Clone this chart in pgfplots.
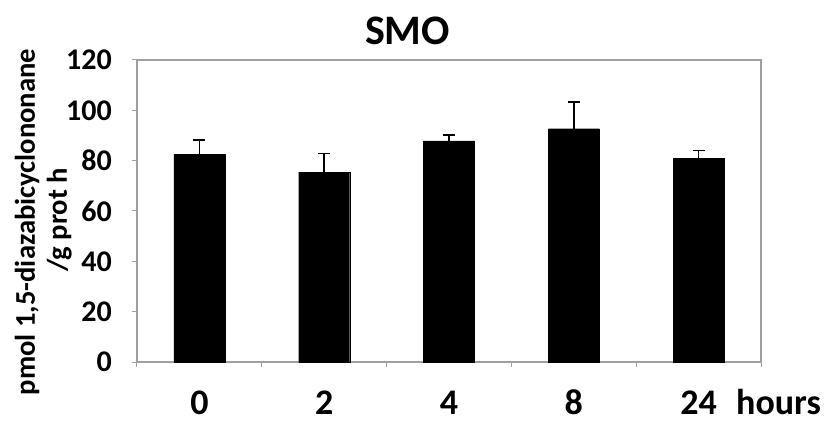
\documentclass[border=0pt]{standalone}
\usepackage{fontspec}
\setmainfont{Carlito}
\usepackage{pgfplots}
\pgfplotsset{compat=1.18}
\definecolor{axgray}{RGB}{160,160,160}
\pgfplotstableread{
x y e
0 82.5 5.7
1 75.4 7.5
2 87.9 2.3
3 92.7 10.7
4 80.8 3.2
}\smodata
\begin{document}
\begin{tikzpicture}
\begin{axis}[
 width=624bp, height=302bp, scale only axis,
 xmin=-0.5, xmax=4.5, ymin=0, ymax=120,
 ybar, bar width=51bp,
 axis line style={axgray, line width=2bp},
 ytick={0,20,...,120},
 xtick={0,1,2,3,4}, xticklabels={0,2,4,8,24},
 minor xtick={-0.5,0.5,1.5,2.5,3.5,4.5},
 tick align=outside, tick pos=left,
 major tick length=5bp, minor tick length=5bp,
 major x tick style={draw=none},
 minor x tick style={axgray, line width=1bp},
 major y tick style={axgray, line width=1bp},
 /pgf/number format/assume math mode=true,
 yticklabel style={font=\fontsize{30bp}{34bp}\selectfont\bfseries, anchor=east, inner sep=0pt, xshift=-20bp},
 xticklabel style={font=\fontsize{36bp}{40bp}\selectfont\bfseries, anchor=base, inner sep=0pt, yshift=-47bp},
 clip=false,
]
\addplot[fill=black, draw=black,
  error bars/.cd, y dir=plus, y explicit,
  error bar style={black, line width=1.5bp},
  error mark options={black, line width=1.5bp, mark size=6bp, rotate=90}]
  table[x=x, y=y, y error=e]{\smodata};
\coordinate (O) at (rel axis cs:0,0);
\end{axis}
\node[anchor=base, font=\fontsize{42bp}{46bp}\selectfont\bfseries] at ([xshift=270.5bp, yshift=317bp]O) {SMO};
\node[rotate=90, anchor=base, inner sep=0pt, font=\fontsize{28.6bp}{32bp}\selectfont\bfseries] at ([xshift=-102bp, yshift=140bp]O) {pmol 1,5-diazabicyclononane};
\node[rotate=90, anchor=base, inner sep=0pt, font=\fontsize{28.6bp}{32bp}\selectfont\bfseries] at ([xshift=-70bp, yshift=142bp]O) {/g prot h};
\node[anchor=base west, inner sep=0pt, font=\fontsize{36bp}{40bp}\selectfont\bfseries] at ([xshift=599bp, yshift=-52bp]O) {hours};
\pgfresetboundingbox
\path ([xshift=-137bp, yshift=-61bp]O) rectangle ([xshift=690bp, yshift=362bp]O);
\end{tikzpicture}
\end{document}
